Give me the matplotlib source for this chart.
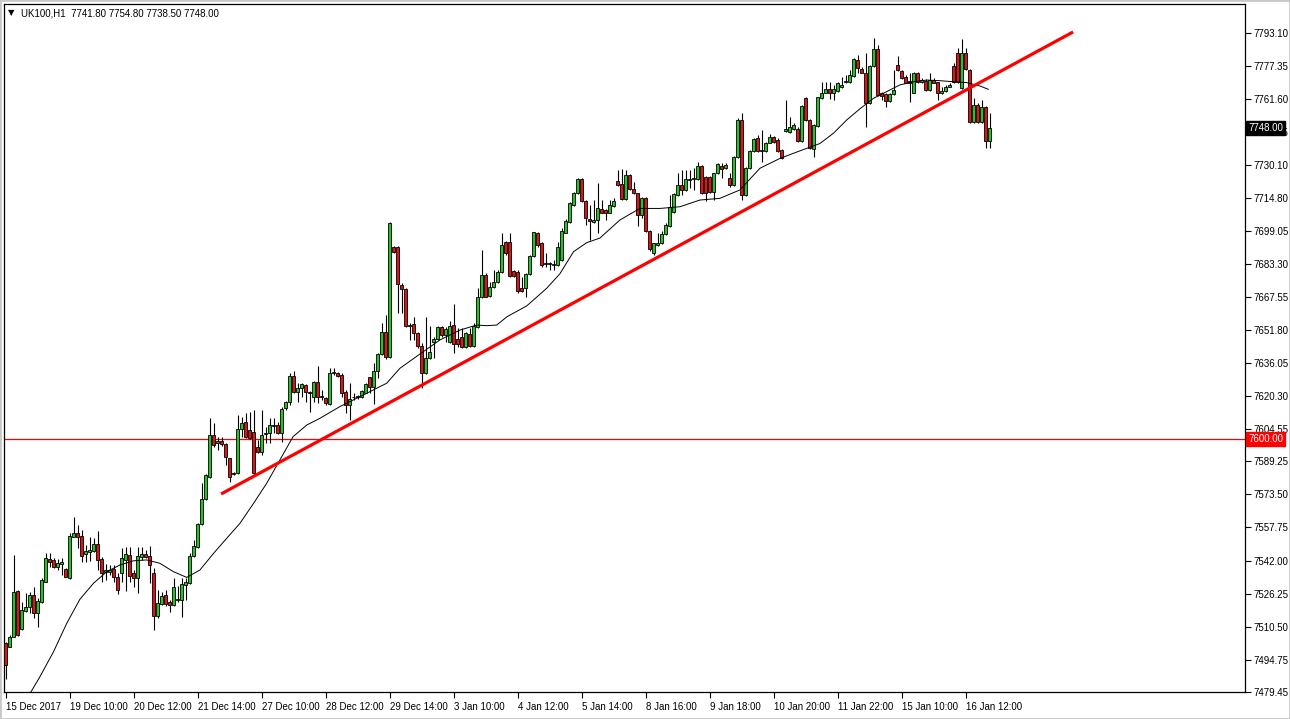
import matplotlib
matplotlib.use("Agg")
import matplotlib.pyplot as plt
import matplotlib.transforms as mtransforms
import numpy as np

plt.rcParams["font.family"] = ["Liberation Sans", "DejaVu Sans"]

symbol = "UK100,H1"

# Hourly bars (price units)
opens = [
    7502.6, 7501.0, 7505.8, 7527.5, 7509.4, 7518.2, 7520.1, 7525.6, 7516.9, 7522.1,
    7532.0, 7542.6, 7542.1, 7539.1, 7540.2, 7537.8, 7533.6, 7553.4, 7555.0, 7553.7,
    7545.0, 7546.2, 7546.7, 7549.9, 7542.6, 7536.4, 7536.7, 7537.8, 7534.0, 7535.9,
    7542.3, 7544.6, 7535.9, 7533.6, 7543.9, 7545.1, 7544.3, 7536.2, 7515.6, 7521.3,
    7525.6, 7522.1, 7520.9, 7523.2, 7523.2, 7530.4, 7531.2, 7544.2, 7548.3, 7559.4,
    7571.1, 7581.6, 7601.8, 7597.8, 7598.9, 7597.3, 7590.7, 7583.5, 7583.5, 7604.6,
    7607.8, 7604.2, 7603.4, 7595.9, 7593.8, 7602.1, 7602.6, 7606.1, 7606.5, 7602.9,
    7614.5, 7617.6, 7630.0, 7622.4, 7624.0, 7625.6, 7622.1, 7620.0, 7627.1, 7620.5,
    7619.2, 7616.5, 7631.4, 7631.4, 7630.3, 7622.4, 7616.0, 7619.7, 7620.0, 7620.0,
    7621.9, 7629.2, 7624.8, 7632.4, 7640.3, 7650.6, 7638.7, 7691.4, 7691.4, 7673.2,
    7671.1, 7653.8, 7654.4, 7650.1, 7644.3, 7631.1, 7638.3, 7646.2, 7647.3, 7653.0,
    7649.4, 7646.2, 7654.1, 7647.3, 7648.6, 7643.8, 7649.8, 7644.1, 7653.3, 7667.3,
    7677.8, 7667.9, 7672.0, 7674.7, 7679.5, 7693.5, 7693.5, 7680.0, 7679.5, 7671.5,
    7671.5, 7678.4, 7686.9, 7698.1, 7693.0, 7683.5, 7683.5, 7682.7, 7682.7, 7685.0,
    7698.0, 7703.3, 7711.2, 7716.8, 7723.6, 7713.3, 7704.4, 7703.0, 7704.1, 7709.2,
    7708.8, 7707.6, 7710.8, 7722.7, 7721.2, 7713.9, 7725.5, 7718.7, 7716.8, 7706.5,
    7714.4, 7699.0, 7688.2, 7692.2, 7693.0, 7697.4, 7701.2, 7708.0, 7716.0, 7720.7,
    7718.4, 7723.1, 7723.6, 7723.4, 7729.9, 7724.7, 7724.7, 7717.6, 7726.3, 7729.8,
    7728.7, 7723.9, 7720.7, 7733.9, 7751.7, 7716.0, 7728.7, 7737.1, 7743.0, 7737.1,
    7737.1, 7740.9, 7743.4, 7742.2, 7737.4, 7746.6, 7746.1, 7747.2, 7747.4, 7741.9,
    7762.0, 7751.7, 7737.7, 7748.8, 7762.0, 7764.7, 7766.3, 7764.4, 7765.7, 7767.2,
    7769.9, 7769.9, 7772.6, 7780.3, 7775.8, 7774.2, 7759.6, 7777.4, 7785.3, 7764.4,
    7764.1, 7760.9, 7764.1, 7777.9, 7775.2, 7772.0, 7769.1, 7764.7, 7774.2, 7769.9,
    7770.4, 7766.0, 7770.7, 7769.6, 7764.4, 7765.7, 7767.6, 7777.4, 7783.7, 7766.8,
    7783.4, 7775.5, 7750.9, 7758.8, 7750.9, 7757.7, 7741.8,
]
highs = [
    7503.4, 7506.6, 7544.6, 7528.0, 7522.4, 7526.7, 7527.2, 7529.6, 7524.0, 7533.6,
    7545.4, 7545.4, 7543.1, 7542.6, 7543.1, 7538.3, 7555.0, 7562.6, 7558.9, 7556.5,
    7549.4, 7553.4, 7552.6, 7556.1, 7543.9, 7540.2, 7539.9, 7539.9, 7535.9, 7547.8,
    7548.6, 7548.6, 7537.5, 7548.6, 7548.6, 7547.0, 7549.1, 7538.3, 7528.0, 7527.2,
    7528.0, 7523.2, 7533.6, 7529.9, 7533.6, 7533.6, 7545.4, 7551.8, 7559.7, 7578.7,
    7583.2, 7609.7, 7607.3, 7601.0, 7601.0, 7597.8, 7590.7, 7584.3, 7611.3, 7610.5,
    7612.1, 7612.9, 7613.7, 7599.4, 7613.7, 7605.7, 7609.7, 7609.7, 7608.1, 7615.3,
    7618.0, 7631.1, 7632.2, 7626.4, 7626.4, 7625.9, 7622.7, 7627.5, 7634.6, 7623.2,
    7620.0, 7633.5, 7633.5, 7631.9, 7631.1, 7623.2, 7626.7, 7621.6, 7620.8, 7623.2,
    7626.7, 7629.5, 7635.9, 7640.6, 7655.2, 7658.9, 7703.3, 7691.7, 7691.7, 7674.0,
    7671.6, 7654.9, 7658.1, 7650.9, 7645.4, 7658.1, 7653.6, 7648.5, 7653.6, 7653.6,
    7653.3, 7656.2, 7664.1, 7652.5, 7652.5, 7650.9, 7652.5, 7655.2, 7671.6, 7689.8,
    7678.7, 7674.7, 7680.3, 7680.3, 7697.7, 7694.3, 7697.7, 7680.3, 7680.3, 7677.1,
    7679.0, 7687.4, 7698.5, 7698.5, 7693.8, 7688.2, 7684.3, 7685.1, 7693.8, 7700.1,
    7704.4, 7712.8, 7717.6, 7723.9, 7723.9, 7713.6, 7711.2, 7713.6, 7721.5, 7713.6,
    7709.2, 7713.6, 7714.4, 7727.9, 7728.2, 7727.9, 7726.0, 7722.3, 7717.1, 7714.9,
    7714.9, 7699.3, 7693.3, 7697.7, 7699.0, 7702.5, 7716.0, 7716.8, 7726.3, 7727.9,
    7727.9, 7727.9, 7728.7, 7731.9, 7730.3, 7725.0, 7725.0, 7726.6, 7731.1, 7731.1,
    7731.1, 7726.3, 7734.6, 7752.5, 7754.9, 7729.2, 7737.4, 7743.0, 7744.5, 7746.9,
    7741.4, 7745.0, 7744.1, 7743.0, 7737.7, 7761.2, 7753.3, 7750.1, 7748.2, 7758.8,
    7762.5, 7752.0, 7749.8, 7762.8, 7769.9, 7769.9, 7769.9, 7768.4, 7769.9, 7772.3,
    7773.1, 7775.5, 7781.0, 7782.6, 7777.1, 7783.4, 7777.9, 7790.6, 7787.4, 7765.2,
    7764.7, 7764.4, 7775.5, 7782.2, 7775.5, 7773.1, 7773.9, 7774.7, 7774.7, 7771.5,
    7771.1, 7773.9, 7771.5, 7769.9, 7767.6, 7768.4, 7769.5, 7778.7, 7785.8, 7790.1,
    7785.8, 7775.8, 7762.0, 7759.6, 7761.2, 7758.4, 7754.8,
]
lows = [
    7485.5, 7500.7, 7505.5, 7506.3, 7509.0, 7517.4, 7516.9, 7514.5, 7510.6, 7521.7,
    7531.7, 7539.1, 7538.3, 7537.5, 7535.1, 7534.0, 7533.1, 7553.1, 7547.8, 7541.5,
    7541.5, 7541.9, 7546.2, 7537.5, 7532.0, 7532.8, 7535.1, 7532.0, 7525.9, 7532.0,
    7527.7, 7532.0, 7529.2, 7526.7, 7542.3, 7543.1, 7531.5, 7509.0, 7514.5, 7520.9,
    7520.4, 7517.4, 7520.5, 7522.4, 7515.3, 7523.2, 7530.9, 7543.9, 7547.8, 7558.9,
    7570.8, 7581.1, 7596.2, 7594.6, 7596.5, 7587.5, 7579.5, 7582.7, 7583.2, 7600.7,
    7600.2, 7599.9, 7583.2, 7593.0, 7592.3, 7597.8, 7597.8, 7602.6, 7602.2, 7598.6,
    7613.7, 7616.0, 7621.6, 7617.6, 7620.0, 7617.6, 7612.9, 7617.6, 7617.2, 7618.4,
    7616.0, 7616.2, 7630.3, 7629.5, 7620.0, 7612.1, 7608.9, 7618.4, 7618.7, 7619.2,
    7621.6, 7621.6, 7616.5, 7628.7, 7639.8, 7637.8, 7638.3, 7688.2, 7660.0, 7659.7,
    7653.3, 7647.0, 7647.0, 7643.0, 7624.0, 7630.8, 7637.8, 7638.3, 7647.0, 7648.6,
    7646.2, 7645.4, 7640.6, 7643.8, 7643.0, 7643.0, 7643.8, 7643.8, 7652.5, 7666.8,
    7667.3, 7667.6, 7671.6, 7674.0, 7679.0, 7687.4, 7677.1, 7677.1, 7669.2, 7670.0,
    7667.6, 7677.9, 7686.6, 7691.4, 7681.9, 7681.9, 7680.3, 7680.3, 7682.2, 7684.7,
    7697.8, 7702.8, 7710.8, 7716.5, 7712.8, 7701.7, 7694.6, 7702.5, 7697.8, 7707.3,
    7704.1, 7707.3, 7710.4, 7720.3, 7713.6, 7713.6, 7718.4, 7716.5, 7701.2, 7704.9,
    7698.5, 7689.5, 7687.4, 7691.7, 7692.7, 7696.9, 7700.9, 7707.6, 7715.5, 7716.0,
    7718.1, 7719.2, 7718.4, 7723.1, 7716.5, 7713.3, 7717.1, 7713.6, 7725.8, 7723.9,
    7728.2, 7719.9, 7720.3, 7733.4, 7713.6, 7715.5, 7728.2, 7736.6, 7736.6, 7731.9,
    7736.6, 7740.6, 7740.9, 7736.6, 7733.0, 7746.1, 7745.7, 7746.9, 7741.4, 7741.4,
    7751.4, 7737.7, 7734.3, 7748.5, 7761.5, 7764.4, 7761.5, 7761.2, 7765.2, 7766.8,
    7769.5, 7769.5, 7772.3, 7773.9, 7773.9, 7748.5, 7759.3, 7777.1, 7763.1, 7761.2,
    7757.7, 7760.4, 7763.6, 7775.2, 7771.1, 7769.1, 7760.4, 7764.4, 7769.5, 7769.5,
    7765.7, 7765.7, 7769.1, 7761.2, 7764.1, 7765.2, 7767.2, 7769.5, 7769.5, 7766.3,
    7775.5, 7750.4, 7750.4, 7750.4, 7750.4, 7738.2, 7738.5,
]
closes = [
    7492.3, 7505.8, 7527.2, 7506.6, 7518.5, 7520.1, 7525.6, 7516.9, 7522.8, 7532.8,
    7543.1, 7541.5, 7539.1, 7540.7, 7541.3, 7534.3, 7553.7, 7555.0, 7553.1, 7544.3,
    7546.7, 7547.0, 7549.9, 7542.3, 7536.2, 7537.5, 7537.5, 7534.3, 7528.0, 7543.1,
    7545.1, 7534.7, 7533.6, 7544.3, 7545.0, 7543.5, 7539.9, 7515.8, 7521.7, 7525.1,
    7521.3, 7520.9, 7529.6, 7523.7, 7530.7, 7532.0, 7544.2, 7548.9, 7559.4, 7571.1,
    7582.7, 7601.8, 7597.0, 7598.9, 7597.3, 7591.1, 7581.6, 7583.2, 7604.6, 7607.3,
    7600.7, 7600.2, 7583.5, 7593.5, 7601.8, 7602.6, 7606.5, 7606.5, 7602.6, 7614.0,
    7617.3, 7630.0, 7622.1, 7624.0, 7625.9, 7622.1, 7621.6, 7627.1, 7620.0, 7619.7,
    7616.8, 7631.1, 7631.9, 7630.0, 7621.9, 7616.0, 7618.7, 7620.0, 7620.1, 7622.7,
    7626.0, 7624.8, 7632.4, 7640.3, 7650.6, 7638.7, 7702.8, 7688.7, 7673.5, 7671.1,
    7653.6, 7653.6, 7650.1, 7644.3, 7631.1, 7638.3, 7641.4, 7647.3, 7653.0, 7649.4,
    7652.1, 7653.6, 7645.1, 7645.1, 7643.8, 7650.1, 7644.1, 7653.6, 7667.3, 7677.8,
    7667.6, 7672.0, 7674.7, 7679.5, 7692.2, 7688.2, 7677.4, 7677.4, 7670.5, 7670.5,
    7678.4, 7686.9, 7698.2, 7692.2, 7682.7, 7683.3, 7683.3, 7682.9, 7691.1, 7699.0,
    7703.8, 7712.3, 7716.8, 7723.6, 7713.3, 7704.9, 7703.6, 7704.1, 7709.6, 7707.6,
    7707.6, 7711.2, 7713.3, 7720.7, 7713.9, 7725.5, 7718.7, 7716.8, 7706.5, 7714.4,
    7699.0, 7690.1, 7693.0, 7693.3, 7697.4, 7701.7, 7710.4, 7716.5, 7720.7, 7718.4,
    7723.4, 7723.6, 7723.6, 7729.9, 7716.8, 7717.1, 7717.6, 7726.3, 7730.6, 7728.5,
    7730.3, 7720.7, 7733.9, 7751.7, 7716.0, 7728.7, 7737.1, 7742.5, 7737.1, 7737.4,
    7740.9, 7743.7, 7741.4, 7737.1, 7733.4, 7747.4, 7748.5, 7749.3, 7741.9, 7758.4,
    7751.7, 7738.2, 7749.3, 7762.5, 7764.4, 7766.3, 7764.4, 7766.3, 7769.5, 7768.4,
    7770.3, 7773.1, 7780.6, 7776.3, 7774.2, 7759.6, 7777.4, 7785.3, 7763.6, 7763.1,
    7760.9, 7764.1, 7766.0, 7775.5, 7771.5, 7769.5, 7770.4, 7774.2, 7769.9, 7770.7,
    7766.0, 7770.7, 7769.5, 7764.4, 7765.7, 7767.6, 7768.4, 7769.9, 7769.9, 7783.7,
    7775.8, 7750.9, 7758.8, 7750.9, 7757.7, 7741.9, 7748.0,
]

# Moving average line (bar position, value)
ma_points = [
    (5.9, 7478.0), (8.6, 7486.7), (12.0, 7498.6), (15.3, 7512.1), (18.6, 7523.6),
    (22.0, 7531.2), (25.3, 7536.7), (28.6, 7539.9), (32.0, 7541.9), (35.3, 7542.3),
    (38.6, 7540.7), (42.0, 7536.7), (45.3, 7534.0), (48.6, 7537.5), (52.0, 7545.4),
    (55.3, 7552.6), (58.6, 7559.7), (62.0, 7569.2), (65.3, 7578.8), (68.6, 7589.9),
    (71.9, 7601.0), (75.3, 7606.5), (78.6, 7609.7), (83.6, 7615.3), (88.6, 7620.0),
    (93.6, 7624.8), (95.3, 7626.4), (98.6, 7633.5), (103.6, 7640.3), (108.6, 7647.0),
    (113.6, 7651.7), (117.8, 7654.1), (120.3, 7653.8), (122.8, 7654.1), (125.4, 7658.1),
    (130.3, 7663.2), (135.3, 7671.6), (138.6, 7678.5), (142.0, 7689.0), (145.3, 7693.3),
    (148.6, 7695.5), (153.6, 7704.1), (158.6, 7709.6), (163.6, 7709.6), (168.6, 7710.4),
    (173.6, 7713.6), (178.6, 7714.4), (183.6, 7718.4), (188.6, 7728.7), (193.6, 7733.4),
    (198.6, 7737.0), (203.6, 7740.5), (207.0, 7745.4), (210.3, 7751.7), (213.6, 7757.0),
    (217.0, 7762.0), (220.3, 7765.2), (223.6, 7768.4), (227.0, 7769.9), (230.3, 7770.7),
    (233.6, 7770.4), (237.0, 7769.9), (240.3, 7769.5), (243.6, 7767.9), (245.7, 7766.3),
]

# Hand-drawn trend line and horizontal level
trend_bars = [53.9, 266.9]
trend_prices = [7573.7, 7793.6]
level_price = 7600.00

price_ticks = [7793.10, 7777.35, 7761.60, 7745.85, 7730.10, 7714.80, 7699.05,
               7683.30, 7667.55, 7651.80, 7636.05, 7620.30, 7604.55, 7589.25,
               7573.50, 7557.75, 7542.00, 7526.25, 7510.50, 7494.75, 7479.45]
time_labels = ["15 Dec 2017", "19 Dec 10:00", "20 Dec 12:00", "21 Dec 14:00",
               "27 Dec 10:00", "28 Dec 12:00", "29 Dec 14:00", "3 Jan 10:00",
               "4 Jan 12:00", "5 Jan 14:00", "8 Jan 16:00", "9 Jan 18:00",
               "10 Jan 20:00", "11 Jan 22:00", "15 Jan 10:00", "16 Jan 12:00"]
time_tick_bars = [16 * k for k in range(len(time_labels))]

W, H = 1290, 719
fig = plt.figure(figsize=(W / 100, H / 100), dpi=100)
fig.patch.set_facecolor("white")
ax = fig.add_axes([4 / W, 27 / H, 1241 / W, 688 / H])

o = np.array(opens)
h = np.array(highs)
l = np.array(lows)
c = np.array(closes)
x = np.arange(len(c))
up = c >= o

# Wicks
ax.vlines(x, l, h, color="black", linewidth=0.8, zorder=2)

# Bodies
body = np.maximum(np.abs(c - o), 0.35)
bottom = np.minimum(o, c)
ax.bar(x[up], body[up], bottom=bottom[up], width=0.72, color="#27c227",
       edgecolor="black", linewidth=0.6, zorder=3)
ax.bar(x[~up], body[~up], bottom=bottom[~up], width=0.72, color="#dc1414",
       edgecolor="black", linewidth=0.6, zorder=3)

# Moving average
ma_x, ma_y = zip(*ma_points)
ax.plot(ma_x, ma_y, color="black", linewidth=0.7, zorder=4)

# Level and trend line
ax.axhline(level_price, color="#ff0000", linewidth=0.9, zorder=1)
ax.plot(trend_bars, trend_prices, color="#ff0000", linewidth=2.3,
        solid_capstyle="butt", zorder=5)

ax.set_xlim(-0.375, 309.875)
ax.set_ylim(7479.45, 7806.9)

ax.yaxis.tick_right()
ax.set_yticks(price_ticks)
ax.set_yticklabels(["{:.2f}".format(v) for v in price_ticks])
ax.tick_params(axis="y", direction="out", length=4, width=0.8, pad=2,
               labelsize=7, colors="black")

ax.set_xticks(time_tick_bars)
ax.set_xticklabels(time_labels)
ax.tick_params(axis="x", direction="out", length=4, width=0.8, pad=3,
               labelsize=7)
for lab in ax.get_xticklabels():
    lab.set_horizontalalignment("left")

for sp in ax.spines.values():
    sp.set_color("black")
    sp.set_linewidth(0.9)

# Price tags on the right scale
tr = mtransforms.blended_transform_factory(ax.transAxes, ax.transData)
ax.text(1.0 + 3 / 1241, closes[-1], "{:.2f}".format(closes[-1]), transform=tr,
        ha="left", va="center", color="white", fontsize=7, zorder=10,
        bbox=dict(boxstyle="square,pad=0.2", fc="black", ec="black"))
ax.text(1.0 + 3 / 1241, level_price, "{:.2f}".format(level_price), transform=tr,
        ha="left", va="center", color="white", fontsize=7, zorder=10,
        bbox=dict(boxstyle="square,pad=0.2", fc="#ff0000", ec="#ff0000"))

# Header
header = "{}  {:.2f} {:.2f} {:.2f} {:.2f}".format(
    symbol, opens[-1], highs[-1], lows[-1], closes[-1])
fig.text(8 / W, 1 - 13 / H, "\u25bc", fontsize=6, va="center",
         family=["DejaVu Sans"])
fig.text(21 / W, 1 - 13 / H, header, fontsize=7, va="center")

# Window border
fig.add_artist(plt.Rectangle((0, 0), 1, 1, transform=fig.transFigure,
                             fill=False, edgecolor="#c8c8c8", linewidth=2))

fig.savefig("out.png", dpi=100, facecolor=fig.get_facecolor())
